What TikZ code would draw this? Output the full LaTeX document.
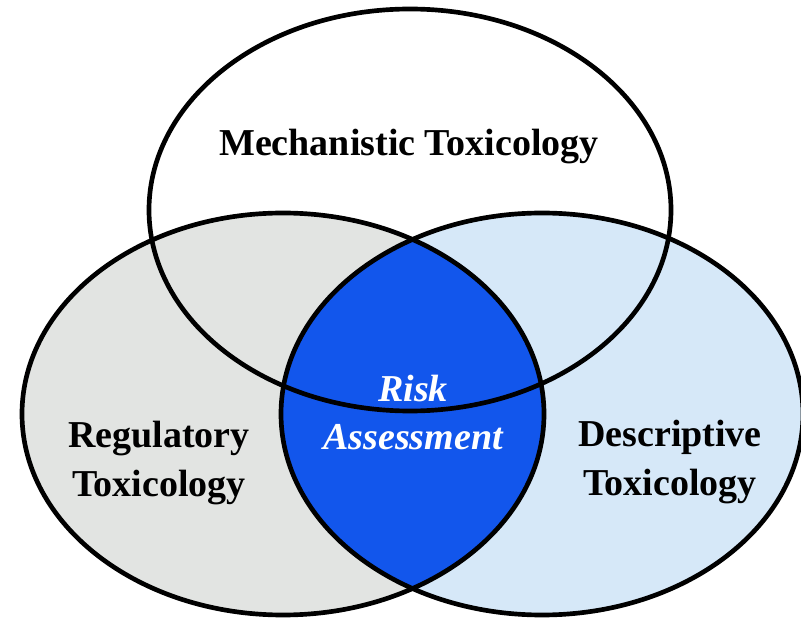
\documentclass[tikz,border=0pt]{standalone}
\usepackage{fontspec}
\setmainfont{Liberation Serif}

\definecolor{regGray}{RGB}{226,228,226}
\definecolor{descBlue}{RGB}{214,232,248}
\definecolor{riskBlue}{RGB}{18,86,236}

\tikzset{every picture/.style={line width=3.5pt}}
\tikzset{
  fieldlbl/.style={inner sep=0.75pt, align=center, font=\fontsize{28.5}{37}\selectfont\bfseries},
  risklbl/.style={fieldlbl, text=white, font=\fontsize{28.5}{36}\selectfont\bfseries\itshape}
}

\begin{document}
\begin{tikzpicture}[x=0.75pt,y=0.75pt,yscale=-1,xscale=1]
				\useasboundingbox (0,0) rectangle (801,620);
				%Shape: Ellipse [regulatory, fill]
				\fill [regGray] (283,414) ellipse [x radius=261, y radius=201];
				%Shape: Ellipse [descriptive, fill]
				\fill [descBlue] (542,414) ellipse [x radius=261, y radius=201];
				%Shape: Lens [risk assessment]
				\begin{scope}
					\clip (283,414) ellipse [x radius=261, y radius=201];
					\fill [riskBlue] (542,414) ellipse [x radius=261, y radius=201];
				\end{scope}
				%Shape: Ellipse [mechanistic]
				\draw (410,210) ellipse [x radius=261, y radius=201];
				%Shape: Ellipse [regulatory]
				\draw (283,414) ellipse [x radius=261, y radius=201];
				%Shape: Ellipse [descriptive]
				\draw (542,414) ellipse [x radius=261, y radius=201];

				% Text Node
				\node [fieldlbl, anchor=base] (mech) at (409,156) {Mechanistic Toxicology};
				% Text Node
				\node [fieldlbl] (regul) at (159,463) {Regulatory\\Toxicology};
				% Text Node
				\node [fieldlbl] (descr) at (670,462) {Descriptive\\Toxicology};
				% Text Node
				\node [risklbl] (risk) at (413,413) {Risk\\Assessment};
\end{tikzpicture}
\end{document}
